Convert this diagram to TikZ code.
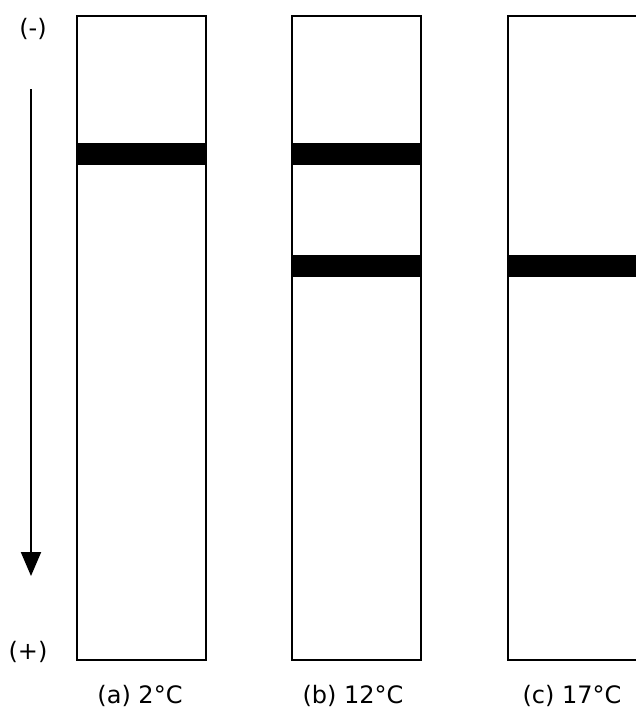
\documentclass[tikz,border=0pt]{standalone}
\usepackage{fontspec}
\setmainfont{DejaVu Sans}
\usetikzlibrary{arrows.meta}
\begin{document}
\begin{tikzpicture}[x=1pt,y=-1pt,
  lane/.style={draw=black,line width=2.2pt,fill=white,minimum width=129pt,minimum height=644pt,inner sep=0pt,outer sep=0pt},
  band/.style={fill=black,minimum width=129pt,minimum height=22pt,inner sep=0pt,outer sep=0pt},
  caption/.style={font=\fontsize{24}{26}\selectfont,inner sep=0pt},
  pole/.style={font=\fontsize{24}{26}\selectfont,inner sep=0pt}]
\useasboundingbox (0,0) rectangle (636,713);
\clip (0,0) rectangle (636,713);
\node[lane] (laneA) at (141.5,338) {};
\node[lane] (laneB) at (356.5,338) {};
\node[lane] (laneC) at (572.5,338) {};
\node[band] (bandA1) at (141.5,154) {};
\node[band] (bandB1) at (356.5,154) {};
\node[band] (bandB2) at (356.5,265.5) {};
\node[band] (bandC2) at (572.5,265.5) {};
\node[pole] (minus) at (33,29) {(-)};
\node[pole] (plus) at (28,652) {(+)};
\node[caption] (capA) at (140,696) {(a) 2°C};
\node[caption] (capB) at (353,696) {(b) 12°C};
\node[caption] (capC) at (572,696) {(c) 17°C};
\coordinate (arrTop) at (31,89);
\coordinate (arrBot) at (31,576);
\draw[line width=2pt,-{Triangle[width=20pt,length=24pt]}] (arrTop) -- (arrBot);
\end{tikzpicture}
\end{document}
